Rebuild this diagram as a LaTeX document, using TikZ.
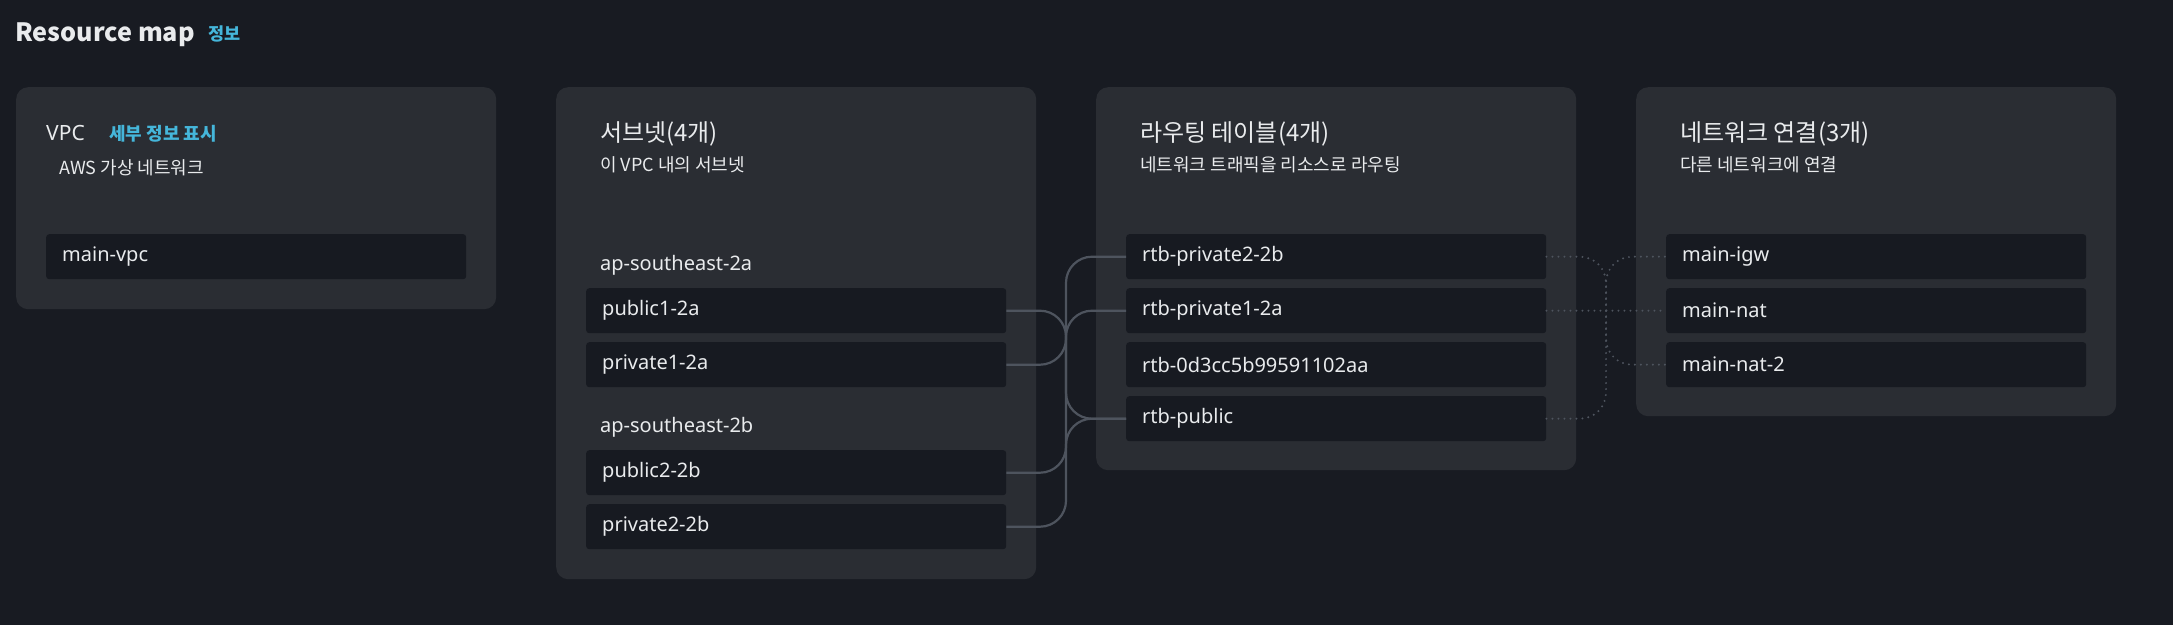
\documentclass[tikz,border=0pt]{standalone}
\usepackage{fontspec}
\setmainfont{Noto Sans}
\newfontfamily\kr{Noto Sans CJK KR}
\usepackage{xcolor}
\usetikzlibrary{positioning,calc}
\definecolor{pagebg}{HTML}{181B22}
\definecolor{panelbg}{HTML}{2A2D33}
\definecolor{boxbg}{HTML}{171A21}
\definecolor{wirec}{HTML}{4E545E}
\definecolor{ink}{HTML}{E9EBED}
\definecolor{linkc}{HTML}{45B6DA}

\begin{document}
\begin{tikzpicture}[x=1pt,y=-1pt,
  every node/.style={text=ink,inner sep=0pt},
  panel/.style={fill=panelbg,rounded corners=12pt,minimum width=480pt,anchor=north west},
  res/.style={fill=boxbg,rounded corners=3pt,minimum height=45pt,text width=388pt,
    inner xsep=16pt,align=left,anchor=north west,font=\fontsize{20}{24}\selectfont},
  zone/.style={anchor=base west,font=\fontsize{20}{24}\selectfont},
  ttl/.style={anchor=base west,font=\kr\fontsize{24}{28}\selectfont},
  sub/.style={anchor=base west,font=\kr\fontsize{18}{22}\selectfont},
  wire/.style={draw=wirec,line width=2.2pt,rounded corners=26pt},
  dotwire/.style={wire,dash pattern=on 0pt off 6pt,line cap=round}]
\fill[pagebg] (0,0) rectangle (2173,625);
\useasboundingbox (0,0) rectangle (2173,625);

\node[anchor=base west,font=\kr\bfseries\fontsize{25.2}{30}\selectfont] (head) at (15,41) {Resource map};
\node[anchor=base west,text=linkc,font=\kr\bfseries\fontsize{17.5}{21}\selectfont] (info) at (208,40) {정보};

% vpc
\node[panel,minimum height=222pt] (vpcp) at (16,87) {};
\node[anchor=base west,font=\fontsize{21}{25}\selectfont] (vpct) at (46,140) {VPC};
\node[anchor=base west,text=linkc,font=\kr\bfseries\fontsize{18}{22}\selectfont] (vpcinfo) at (109,140) {세부 정보 표시};
\node[sub] (vpcs) at (59,174) {AWS 가상 네트워크};
\node[res] (vpc) at (46,234) {main-vpc};

% subnets
\node[panel,minimum height=492pt] (snp) at (556,87) {};
\node[ttl] (snt) at (600,141) {서브넷(4개)};
\node[sub] (sns) at (600,171) {이 VPC 내의 서브넷};
\node[zone] (aza) at (600,270) {ap-southeast-2a};
\node[res] (pub1) at (586,288) {public1-2a};
\node[res] (priv1) at (586,342) {private1-2a};
\node[zone] (azb) at (600,432) {ap-southeast-2b};
\node[res] (pub2) at (586,450) {public2-2b};
\node[res] (priv2) at (586,504) {private2-2b};

% route tables
\node[panel,minimum height=383pt] (rtp) at (1096,87) {};
\node[ttl] (rtt) at (1140,141) {라우팅 테이블(4개)};
\node[sub] (rts) at (1140,171) {네트워크 트래픽을 리소스로 라우팅};
\node[res] (rtpriv2) at (1126,234) {rtb-private2-2b};
\node[res] (rtpriv1) at (1126,288) {rtb-private1-2a};
\node[res] (rtmain) at (1126,342) {rtb-0d3cc5b99591102aa};
\node[res] (rtpub) at (1126,396) {rtb-public};

% network connections
\node[panel,minimum height=329pt] (ncp) at (1636,87) {};
\node[ttl] (nct) at (1680,141) {네트워크 연결(3개)};
\node[sub] (ncs) at (1680,171) {다른 네트워크에 연결};
\node[res] (igw) at (1666,234) {main-igw};
\node[res] (nat) at (1666,288) {main-nat};
\node[res] (nat2) at (1666,342) {main-nat-2};

% subnet -> route table
\coordinate (trunkA) at (1066,0);
\draw[wire] (pub1.east) -| (trunkA |- rtpub.west) -- (rtpub.west);
\draw[wire] (priv1.east) -| (trunkA |- rtpriv1.west) -- (rtpriv1.west);
\draw[wire] (pub2.east) -| (trunkA |- rtpub.west) -- (rtpub.west);
\draw[wire] (priv2.east) -| (trunkA |- rtpriv2.west) -- (rtpriv2.west);

% route table -> gateway
\coordinate (trunkB) at (1606,0);
\draw[dotwire] (rtpub.east) -| (trunkB |- igw.west) -- (igw.west);
\draw[dotwire] (rtpriv1.east) -- (nat.west);
\draw[dotwire] (rtpriv2.east) -| (trunkB |- nat2.west) -- (nat2.west);
\end{tikzpicture}
\end{document}
